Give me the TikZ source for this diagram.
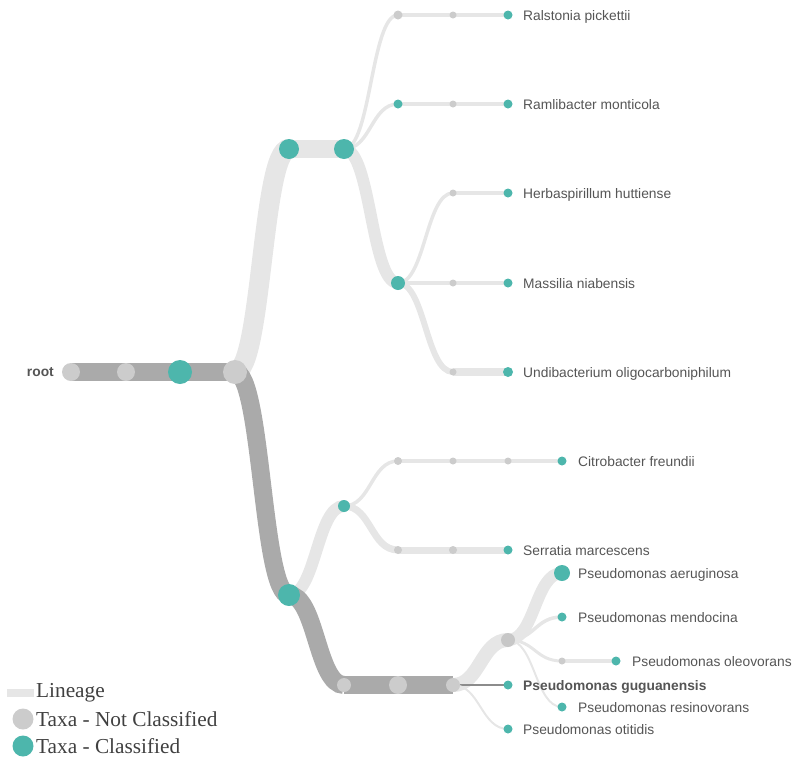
\documentclass[tikz,border=0pt]{standalone}
\usepackage{fontspec}
\setmainfont{Liberation Sans}
\newfontfamily\legendfont{Liberation Serif}
\usetikzlibrary{backgrounds}
\definecolor{tealc}{HTML}{4DB6AC}
\definecolor{ncgray}{HTML}{CCCCCC}
\definecolor{lingray}{HTML}{E6E6E6}
\definecolor{dkgray}{HTML}{AAAAAA}
\definecolor{txtc}{HTML}{555555}
\tikzset{
  tax/.style={circle,inner sep=0pt,minimum size=#1},
  nc/.style={tax=#1,fill=ncgray},
  cl/.style={tax=#1,fill=tealc},
  lin/.style={line width=#1,draw=lingray},
  dlin/.style={line width=#1,draw=dkgray},
  lk/.style={to path={.. controls +(27,0) and +(-27,0) .. (\tikztotarget)}},
  lbl/.style={anchor=base west,text=txtc,font=\fontsize{13.8}{16}\selectfont,inner sep=0pt},
  leg/.style={anchor=west,text=black!75,font=\legendfont\fontsize{21.3}{24}\selectfont,inner sep=0pt},
}
\begin{document}
\begin{tikzpicture}[x=1pt,y=-1pt]
\useasboundingbox (0,0) rectangle (796,761);
% nodes
\node[nc=18] (r0) at (71,372) {};
\node[nc=18] (r1) at (126,372) {};
\node[cl=24] (r2) at (180,372) {};
\node[nc=24] (r3) at (235,372) {};
\node[cl=20] (a1) at (289,149) {};
\node[cl=20] (a2) at (344,149) {};
\node[nc=9] (b1) at (398,15) {};
\node[nc=7] (b2) at (453,15) {};
\node[cl=9] (b3) at (508,15) {};
\node[cl=9] (c1) at (398,104) {};
\node[nc=7] (c2) at (453,104) {};
\node[cl=9] (c3) at (508,104) {};
\node[cl=14] (d0) at (398,283) {};
\node[nc=7] (d1) at (453,193) {};
\node[cl=9] (d2) at (508,193) {};
\node[nc=7] (e1) at (453,283) {};
\node[cl=9] (e2) at (508,283) {};
\node[nc=7] (f1) at (453,372) {};
\node[cl=10] (f2) at (508,372) {};
\node[cl=22] (g0) at (289,595) {};
\node[cl=12] (g1) at (344,506) {};
\node[nc=8] (h1) at (398,461) {};
\node[nc=7] (h2) at (453,461) {};
\node[nc=7] (h3) at (508,461) {};
\node[cl=9] (h4) at (562,461) {};
\node[nc=8] (i1) at (398,550) {};
\node[nc=8] (i2) at (453,550) {};
\node[cl=9] (i3) at (508,550) {};
\node[nc=14] (p1) at (344,685) {};
\node[nc=18] (p2) at (398,685) {};
\node[nc=14] (p3) at (453,685) {};
\node[tax=14,fill=black!22] (q0) at (508,640) {};
\node[cl=16] (q1) at (562,573) {};
\node[cl=9] (q2) at (562,617) {};
\node[nc=7] (q3) at (562,661) {};
\node[cl=9] (q4) at (616,661) {};
\node[cl=9] (q5) at (562,707) {};
\node[cl=9] (p4) at (508,685) {};
\node[cl=9] (p5) at (508,729) {};
% edges
\begin{scope}[on background layer]
\draw[dlin=18] (r0.center) -- (r1.center) -- (r2.center) -- (r3.center);
\draw[lin=20] (r3.center) to[lk] (a1.center);
\draw[lin=18] (a1.center) -- (a2.center);
\draw[lin=3.5] (a2.center) to[lk] (b1.center);
\draw[lin=3.5] (b1.center) -- (b2.center) -- (b3.center);
\draw[lin=3.5] (a2.center) to[lk] (c1.center);
\draw[lin=3.5] (c1.center) -- (c2.center) -- (c3.center);
\draw[lin=12] (a2.center) to[lk] (d0.center);
\draw[lin=3.5] (d0.center) to[lk] (d1.center);
\draw[lin=3.5] (d1.center) -- (d2.center);
\draw[lin=3.5] (d0.center) -- (e1.center) -- (e2.center);
\draw[lin=6] (d0.center) to[lk] (f1.center);
\draw[lin=8] (f1.center) -- (f2.center);
\draw[dlin=18] (r3.center) to[lk] (g0.center);
\draw[lin=12] (g0.center) to[lk] (g1.center);
\draw[lin=3.5] (g1.center) to[lk] (h1.center);
\draw[lin=3.5] (h1.center) -- (h2.center) -- (h3.center) -- (h4.center);
\draw[lin=7] (g1.center) to[lk] (i1.center);
\draw[lin=7] (i1.center) -- (i2.center) -- (i3.center);
\draw[dlin=18] (g0.center) to[lk] (p1.center);
\draw[dlin=18] (p1.center) -- (p2.center) -- (p3.center);
\draw[lin=14] (p3.center) to[lk] (q0.center);
\draw[lin=12] (q0.center) to[lk] (q1.center);
\draw[lin=3.5] (q0.center) to[lk] (q2.center);
\draw[lin=3] (q0.center) to[lk] (q3.center);
\draw[lin=3.5] (q3.center) -- (q4.center);
\draw[lin=2] (q0.center) to[lk] (q5.center);
\draw[line width=1.5pt,draw=black!45] (p3.center) -- (p4.center);
\draw[lin=2] (p3.center) to[lk] (p5.center);
\end{scope}
% labels
\node[anchor=east,text=txtc,font=\bfseries\fontsize{13.8}{16}\selectfont,inner sep=0pt] (lroot) at (54,372) {root};
\node[lbl] (lb) at (523,20) {Ralstonia pickettii};
\node[lbl] (lc) at (523,109) {Ramlibacter monticola};
\node[lbl] (ld) at (523,198) {Herbaspirillum huttiense};
\node[lbl] (le) at (523,288) {Massilia niabensis};
\node[lbl] (lf) at (523,377) {Undibacterium oligocarboniphilum};
\node[lbl] (lh) at (578,466) {Citrobacter freundii};
\node[lbl] (li) at (523,555) {Serratia marcescens};
\node[lbl] (lq1) at (578,578) {Pseudomonas aeruginosa};
\node[lbl] (lq2) at (578,622) {Pseudomonas mendocina};
\node[lbl] (lq4) at (632,666) {Pseudomonas oleovorans};
\node[lbl,font=\bfseries\fontsize{13.8}{16}\selectfont] (lp4) at (523,690) {Pseudomonas guguanensis};
\node[lbl] (lq5) at (578,712) {Pseudomonas resinovorans};
\node[lbl] (lp5) at (523,734) {Pseudomonas otitidis};
% legend
\coordinate (lg0) at (7,693);
\coordinate (lg1) at (34,693);
\draw[line width=8pt,draw=lingray] (lg0) -- (lg1);
\node[nc=21] (lgn) at (23,719) {};
\node[cl=21] (lgc) at (23,746) {};
\node[leg] (lt0) at (36,693) {Lineage};
\node[leg] (lt1) at (36,719) {Taxa - Not Classified};
\node[leg] (lt2) at (36,746) {Taxa - Classified};
\end{tikzpicture}
\end{document}
